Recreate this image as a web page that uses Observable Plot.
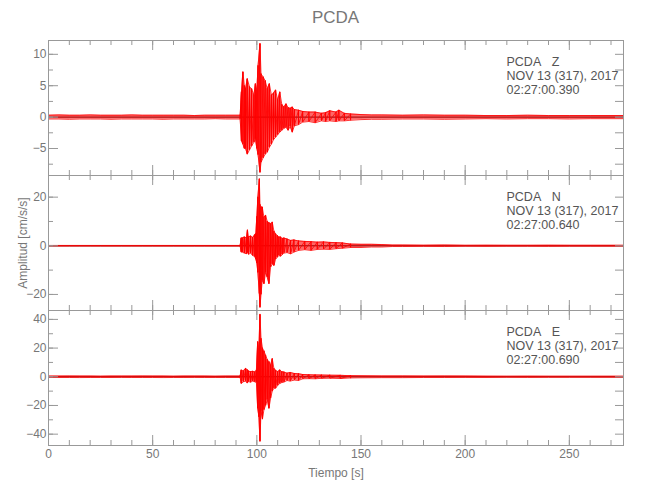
<!DOCTYPE html>
<html><head><meta charset="utf-8">
<script src="https://cdn.jsdelivr.net/npm/d3@7"></script>
<script src="https://cdn.jsdelivr.net/npm/@observablehq/plot@0.6"></script>
<style>
body{margin:0;background:#fff;}
#wrap{position:relative;width:650px;height:500px;font-family:"Liberation Sans",sans-serif;}
#title{position:absolute;top:8px;left:48px;width:575px;text-align:center;font-size:17px;color:#777;}
svg{position:absolute;left:0;}
</style></head><body><div id="wrap"><div id="title">PCDA</div></div>
<script>
// ---- Data (envelope of each trace) ----
const quiet = [0,5,10,15,20,25,30,35,40,45,50,55,60,65,70,75,80,85,90];

// Z component
const tZ = [...quiet, 92,92.6,93.3,94,94.6,95.4,96.5,97.5,98.6,99.3,100,100.6,101.5,102,
  103,104,105,106,107,108,109,110,111,112,113,114,115,116,117,118,
  120,122,125,128,131,133,135,138,139.4,142,145,150,155,160,
  170,180,190,200,210,220,230,240,250,260,270,276];
const hiZ = [0.3,0.35,0.3,0.3,0.35,0.3,0.3,0.3,0.35,0.3,0.3,0.3,0.3,0.3,0.25,0.3,0.3,0.3,0.3,
  0.3,4.0,7.2,5.0,4.5,6.1,4.8,4.5,3.5,5.3,4.3,8.2,11.7,6.9,
  6.4,5.8,4.5,5.3,3.5,3.8,4.3,2.7,4.0,2.0,1.6,2.1,1.5,1.4,1.6,1.2,
  1.1,0.9,0.8,0.8,0.6,0.7,1.0,0.8,1.1,0.6,0.5,0.4,0.35,0.35,
  0.3,0.35,0.3,0.3,0.25,0.25,0.3,0.25,0.25,0.25,0.25,0.25];
const loZ = [-0.3,-0.3,-0.35,-0.3,-0.3,-0.3,-0.35,-0.3,-0.3,-0.3,-0.3,-0.35,-0.3,-0.3,-0.3,-0.3,-0.25,-0.3,-0.3,
  -0.3,-3.8,-4.3,-5.0,-5.0,-5.9,-5.2,-4.6,-4.0,-3.5,-5.0,-6.0,-8.8,-7.2,
  -6.5,-5.9,-5.6,-4.8,-4.3,-3.6,-3.2,-2.8,-2.4,-2.1,-1.8,-1.6,-2.1,-1.5,-2.4,-1.4,
  -1.2,-0.8,-0.7,-0.9,-0.6,-0.7,-0.6,-0.7,-0.6,-0.6,-0.5,-0.4,-0.35,-0.35,
  -0.3,-0.3,-0.35,-0.3,-0.25,-0.3,-0.25,-0.25,-0.3,-0.25,-0.25,-0.25];

// N component
const tN = [...quiet, 92,92.5,93,94,95,95.5,96,97,98,99,99.5,100,100.5,101.2,101.5,102,
  102.6,103.4,104.2,105,105.8,106.6,107.4,108.2,109,109.8,110.6,111.4,112.2,113,114.5,116.2,117.8,
  120,123,126,129,132,135,138,141,145,150,155,160,165,170,
  180,190,200,210,220,230,240,250,260,270,276];
const hiN = [0.15,0.15,0.15,0.15,0.15,0.15,0.15,0.15,0.15,0.15,0.15,0.15,0.15,0.15,0.15,0.15,0.15,0.15,0.15,
  0.15,3.2,3.2,3.6,3.3,6.5,3.6,4.0,3.4,4.5,5.0,12,20,27.5,17,15.9,
  15.9,11.8,12.5,10,9.5,9.0,9.7,6.0,4.9,4.2,3.6,3.6,3.0,3.2,2.8,2.2,2.4,
  2.0,1.8,1.7,1.5,1.6,1.4,1.3,1.2,0.7,0.6,0.6,0.5,0.3,0.3,
  0.25,0.3,0.2,0.25,0.2,0.2,0.25,0.2,0.2,0.2,0.2];
const loN = [-0.15,-0.15,-0.15,-0.15,-0.15,-0.15,-0.15,-0.15,-0.15,-0.15,-0.15,-0.15,-0.15,-0.15,-0.15,-0.15,-0.15,-0.15,-0.15,
  -0.15,-2.6,-2.6,-3.0,-3.3,-2.8,-3.5,-3.0,-4.0,-4.4,-5.5,-7.1,-11,-19.7,-25.3,-20,
  -14.2,-15.6,-11.0,-12.9,-15.6,-8.8,-7.5,-8.1,-5.5,-4.7,-4.0,-4.3,-3.6,-3.0,-2.8,-3.3,-2.6,
  -1.9,-1.6,-1.9,-1.5,-1.4,-1.5,-1.2,-1.0,-0.7,-0.7,-0.5,-0.5,-0.3,-0.3,
  -0.25,-0.3,-0.2,-0.25,-0.2,-0.2,-0.25,-0.2,-0.2,-0.2,-0.2];

// E component
const tE = [...quiet, 92,92.5,93.5,94.6,95.4,96,97,98,99,99.8,100.4,101,101.5,102,
  102.7,103.4,104.2,105,105.8,106.6,107.4,108.2,109,110,111,112,113,114.5,116,118,
  120,122,125,128,131,135,140,145,150,160,
  170,180,190,200,210,220,230,240,250,260,270,276];
const hiE = [0.5,0.5,0.55,0.5,0.5,0.45,0.5,0.5,0.5,0.55,0.5,0.5,0.45,0.5,0.5,0.5,0.45,0.5,0.5,
  0.5,4.7,4.0,5.8,4.9,4.0,3.5,3.8,3.3,4.5,24.4,20,43.5,26.7,
  20,18,15,12,10.5,8,12.6,5.8,4.5,3.5,4.7,3.5,3.3,2.5,3.0,2.3,
  2.1,1.6,1.4,1.3,1.2,1.1,1.0,0.8,0.7,0.6,
  0.6,0.5,0.55,0.5,0.45,0.4,0.45,0.4,0.4,0.4,0.4,0.4];
const loE = [-0.5,-0.5,-0.5,-0.55,-0.5,-0.5,-0.5,-0.45,-0.5,-0.5,-0.5,-0.55,-0.5,-0.5,-0.45,-0.5,-0.5,-0.5,-0.5,
  -0.5,-4.7,-3.5,-3.0,-4.4,-3.3,-3.8,-3.0,-3.5,-4.0,-22,-28,-45,-24,
  -29.5,-23,-20,-16,-22,-15,-10,-8,-8,-6,-4.7,-4.0,-3.7,-2.6,-3.0,-2.3,
  -2.6,-1.4,-1.3,-1.4,-1.1,-1.0,-1.2,-0.8,-0.7,-0.6,
  -0.6,-0.5,-0.5,-0.45,-0.5,-0.4,-0.45,-0.4,-0.4,-0.4,-0.4,-0.4];

// Axis ticks and labels
const xDomain = [0, 276];
const xMajor = [0, 50, 100, 150, 200, 250];
const xMinor = [0,10,20,30,40,50,60,70,80,90,100,110,120,130,140,150,160,170,180,190,200,210,220,230,240,250,260,270];
const yDomZ = [-9.3, 12.2], yMajZ = [-5, 0, 5, 10], yMinZ = [-7.5,-5,-2.5,0,2.5,5,7.5,10];
const yDomN = [-26.6, 28.9], yMajN = [-20, 0, 20], yMinN = [-20,-10,0,10,20];
const yDomE = [-47.9, 46.2], yMajE = [-40,-20,0,20,40], yMinE = [-40,-30,-20,-10,0,10,20,30,40];
const labelZ = "PCDA\u00a0\u00a0\u00a0Z\nNOV 13 (317), 2017\n02:27:00.390";
const labelN = "PCDA\u00a0\u00a0\u00a0N\nNOV 13 (317), 2017\n02:27:00.640";
const labelE = "PCDA\u00a0\u00a0\u00a0E\nNOV 13 (317), 2017\n02:27:00.690";
const yTitle = "Amplitud [cm/s/s]";
const xTitle = "Tiempo [s]";

// ---- Drawing ----
const W = 650, ML = 48, MR = 27, PH = 135, PAD = 5;
const PW = W - ML - MR;
const GRAY = "#999";
const RED = "#ff0000";
function rowsOf(t, hi, lo) { return t.map((v, i) => ({t: v, hi: hi[i], lo: lo[i]})); }
// densely read part of the trace: path alternates between each step's max and min
function zigzag(rows) { return rows.flatMap(r => [{t: r.t, v: r.hi}, {t: r.t, v: r.lo}]); }
const dense = r => r.t >= 92 && r.t <= 145;

function panel({rows, yDomain, yMajor, yMinor, label, top, bottom, ylabel}) {
  const mb = bottom ? 50 : PAD;
  const H = PH + PAD + mb;
  const active = rows.filter(dense);
  const marks = [
    Plot.ruleY([0], {stroke: "#000", strokeWidth: 1}),
    Plot.areaY(rows, {x: "t", y1: "lo", y2: "hi", fill: RED, fillOpacity: 0.6}),
    Plot.line(rows, {x: "t", y: "hi", stroke: RED, strokeWidth: 0.8}),
    Plot.line(rows, {x: "t", y: "lo", stroke: RED, strokeWidth: 0.8}),
    Plot.ruleX(active, {x: "t", y1: "lo", y2: "hi", stroke: RED, strokeWidth: 1}),
    Plot.line(zigzag(active), {x: "t", y: "v", stroke: RED, strokeWidth: 0.8}),
    Plot.frame({stroke: GRAY}),
    Plot.tickX(xMinor, {x: d => d, stroke: GRAY, insetTop: PH - 5}),
    Plot.tickX(xMajor, {x: d => d, stroke: GRAY, insetTop: PH - 10}),
    Plot.tickX(xMinor, {x: d => d, stroke: GRAY, insetBottom: PH - 5}),
    Plot.tickX(xMajor, {x: d => d, stroke: GRAY, insetBottom: PH - 10}),
    Plot.tickY(yMinor, {y: d => d, stroke: GRAY, insetRight: PW - 5}),
    Plot.tickY(yMajor, {y: d => d, stroke: GRAY, insetRight: PW - 10}),
    Plot.tickY(yMinor, {y: d => d, stroke: GRAY, insetLeft: PW - 8}),
    Plot.axisY(yMajor, {tickSize: 0, tickPadding: 2, fontSize: 12,
      label: ylabel || null, labelAnchor: "center", labelOffset: 30, labelArrow: "none"}),
    Plot.text([label], {frameAnchor: "top-right", textAnchor: "start", lineAnchor: "top",
      dx: -117, dy: 16, fontSize: 12.5, lineHeight: 1.12, fill: "#555"})
  ];
  if (bottom) marks.push(Plot.axisX(xMajor, {tickSize: 0, tickPadding: 4, fontSize: 12,
      label: xTitle, labelAnchor: "center", labelOffset: 31, labelArrow: "none"}));
  const svg = Plot.plot({
    width: W, height: H, marginLeft: ML, marginRight: MR, marginTop: PAD, marginBottom: mb,
    style: {fontFamily: "Liberation Sans, sans-serif", fontSize: "12px", color: "#777", background: "transparent"},
    x: {domain: xDomain, axis: bottom ? undefined : null},
    y: {domain: yDomain},
    marks
  });
  svg.style.top = (top - PAD) + "px";
  document.getElementById("wrap").appendChild(svg);
}

panel({rows: rowsOf(tZ, hiZ, loZ), yDomain: yDomZ, yMajor: yMajZ, yMinor: yMinZ, label: labelZ, top: 40});
panel({rows: rowsOf(tN, hiN, loN), yDomain: yDomN, yMajor: yMajN, yMinor: yMinN, label: labelN, top: 175, ylabel: yTitle});
panel({rows: rowsOf(tE, hiE, loE), yDomain: yDomE, yMajor: yMajE, yMinor: yMinE, label: labelE, top: 310, bottom: true});
</script></body></html>
